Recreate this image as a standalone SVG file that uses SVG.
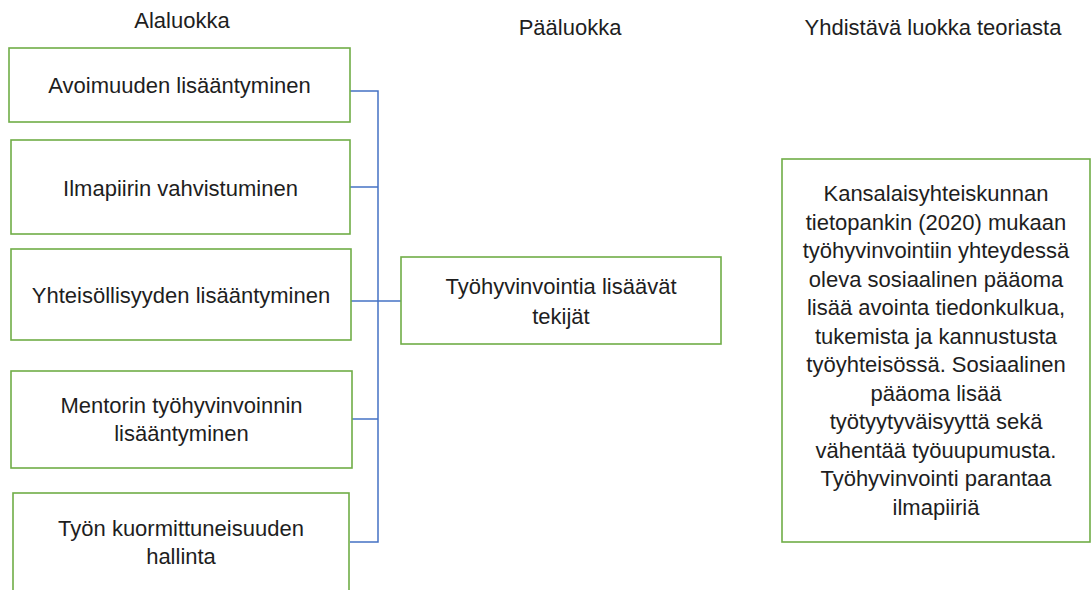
<svg xmlns="http://www.w3.org/2000/svg" width="1092" height="590" viewBox="0 0 1092 590">
  <style>
    .box { fill: #ffffff; stroke: #70ad47; stroke-width: 1.6; }
    .lbl { font-family: "Liberation Sans", Arial, sans-serif; font-size: 22px; fill: #1e1e1e; text-anchor: middle; }
    .conn { fill: none; stroke: #4472c4; stroke-width: 1.5; }
  </style>
  <rect width="1092" height="590" fill="#ffffff"/>

  <!-- column headings -->
  <g id="headings">
    <text class="lbl" x="182" y="28">Alaluokka</text>
    <text class="lbl" x="570" y="35">Pääluokka</text>
    <text class="lbl" x="933" y="35">Yhdistävä luokka teoriasta</text>
  </g>

  <!-- bracket connectors -->
  <g id="connectors">
    <path class="conn" d="M350,91 H378 V542 H350"/>
    <path class="conn" d="M350,187 H378"/>
    <path class="conn" d="M351,301 H401"/>
    <path class="conn" d="M352,419 H378"/>
  </g>

  <g id="n1">
    <rect class="box" x="9" y="48" width="341" height="74"/>
    <text class="lbl" x="179.5" y="93">Avoimuuden lisääntyminen</text>
  </g>
  <g id="n2">
    <rect class="box" x="11" y="140" width="339" height="94"/>
    <text class="lbl" x="180.5" y="196">Ilmapiirin vahvistuminen</text>
  </g>
  <g id="n3">
    <rect class="box" x="11" y="249" width="340" height="91"/>
    <text class="lbl" x="181" y="303">Yhteisöllisyyden lisääntyminen</text>
  </g>
  <g id="n4">
    <rect class="box" x="11" y="371" width="341" height="97"/>
    <text class="lbl" x="181.5" y="413">Mentorin työhyvinvoinnin</text>
    <text class="lbl" x="181.5" y="441">lisääntyminen</text>
  </g>
  <g id="n5">
    <rect class="box" x="13" y="493" width="336" height="120"/>
    <text class="lbl" x="181" y="536">Työn kuormittuneisuuden</text>
    <text class="lbl" x="181" y="564">hallinta</text>
  </g>

  <g id="main">
    <rect class="box" x="401" y="257" width="320" height="87"/>
    <text class="lbl" x="561" y="294">Työhyvinvointia lisäävät</text>
    <text class="lbl" x="561" y="324">tekijät</text>
  </g>

  <g id="theory">
    <rect class="box" x="782" y="159" width="308" height="383"/>
    <text class="lbl" x="936" y="201">Kansalaisyhteiskunnan</text>
    <text class="lbl" x="936" y="229.5">tietopankin (2020) mukaan</text>
    <text class="lbl" x="936" y="258">työhyvinvointiin yhteydessä</text>
    <text class="lbl" x="936" y="286.5">oleva sosiaalinen pääoma</text>
    <text class="lbl" x="936" y="315">lisää avointa tiedonkulkua,</text>
    <text class="lbl" x="936" y="343.5">tukemista ja kannustusta</text>
    <text class="lbl" x="936" y="372">työyhteisössä. Sosiaalinen</text>
    <text class="lbl" x="936" y="400.5">pääoma lisää</text>
    <text class="lbl" x="936" y="429">työtyytyväisyyttä sekä</text>
    <text class="lbl" x="936" y="457.5">vähentää työuupumusta.</text>
    <text class="lbl" x="936" y="486">Työhyvinvointi parantaa</text>
    <text class="lbl" x="936" y="514.5">ilmapiiriä</text>
  </g>
</svg>
